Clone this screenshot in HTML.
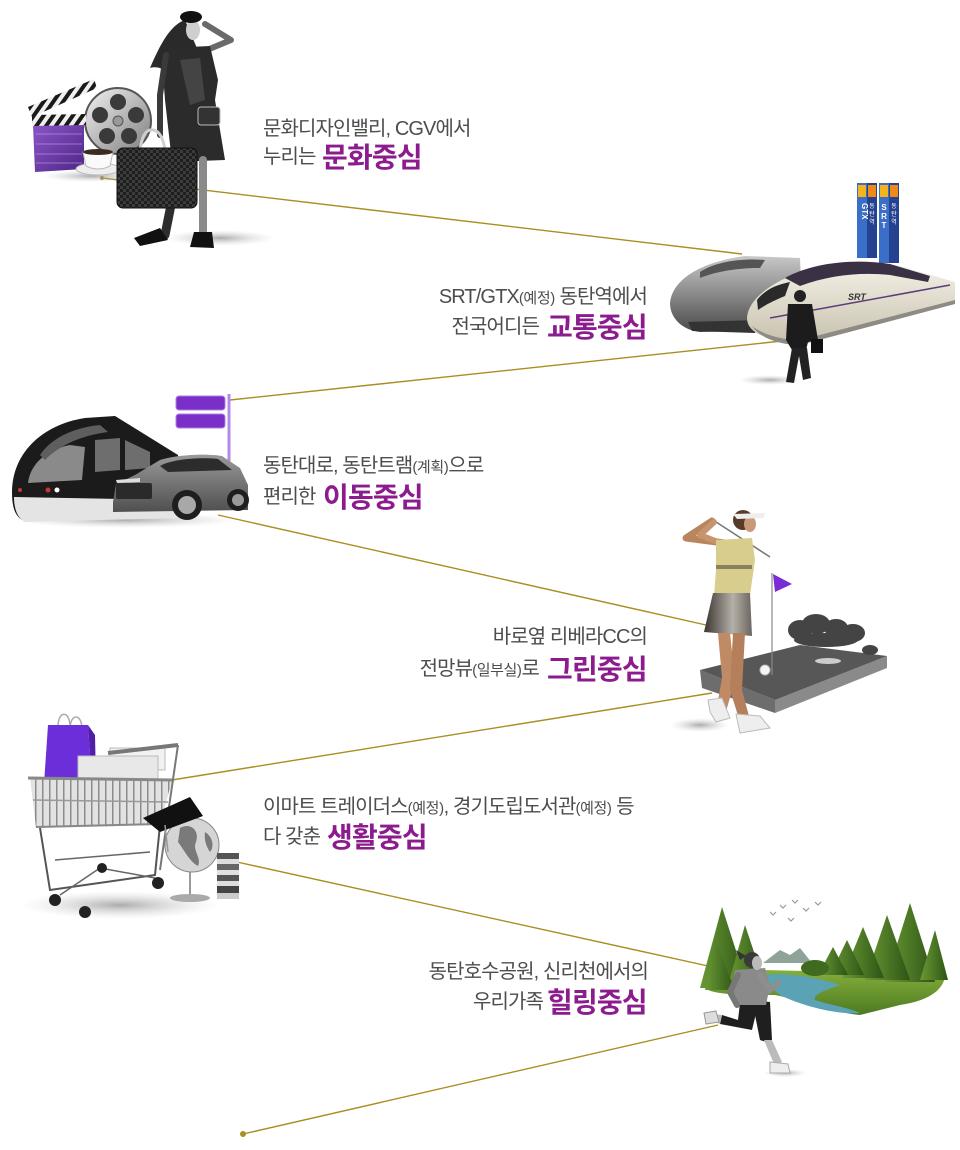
<!DOCTYPE html>
<html><head><meta charset="utf-8">
<style>
html,body{margin:0;padding:0;background:#fff;}
body{width:960px;height:1150px;position:relative;overflow:hidden;}
svg{position:absolute;left:0;top:0;}
.t{position:absolute;white-space:nowrap;font-family:"Liberation Sans","Noto Sans CJK KR",sans-serif;font-size:20px;line-height:20px;color:#4d4d4d;letter-spacing:-0.9px;}
.s{font-size:15px;letter-spacing:-0.4px;}
.b{position:absolute;white-space:nowrap;font-family:"Liberation Sans","Noto Sans CJK KR",sans-serif;font-size:28px;line-height:28px;font-weight:bold;color:#8c1c8e;letter-spacing:-0.8px;}
</style></head><body>
<svg width="960" height="1150" viewBox="0 0 960 1150">
<defs>
 <linearGradient id="silver" x1="0" y1="0" x2="1" y2="1"><stop offset="0" stop-color="#f2f2f2"/><stop offset="1" stop-color="#7d7d7d"/></linearGradient>
 <linearGradient id="purp" x1="0" y1="0" x2="1" y2="1"><stop offset="0" stop-color="#8a55c8"/><stop offset="1" stop-color="#4e2687"/></linearGradient>
 <linearGradient id="gtrain" x1="0" y1="0" x2="0" y2="1"><stop offset="0" stop-color="#c8c8c8"/><stop offset=".5" stop-color="#8a8a8a"/><stop offset="1" stop-color="#4a4a4a"/></linearGradient>
 <linearGradient id="cream" x1="0" y1="0" x2="0" y2="1"><stop offset="0" stop-color="#f5f2e8"/><stop offset="1" stop-color="#c9c3b0"/></linearGradient>
 <linearGradient id="carg" x1="0" y1="0" x2="0" y2="1"><stop offset="0" stop-color="#9a9a9a"/><stop offset="1" stop-color="#4f4f4f"/></linearGradient>
 <linearGradient id="skirt" x1="0" y1="0" x2="1" y2="0"><stop offset="0" stop-color="#3a3530"/><stop offset=".6" stop-color="#b5b0a8"/><stop offset="1" stop-color="#6a655e"/></linearGradient>
 <linearGradient id="grass" x1="0" y1="0" x2="0" y2="1"><stop offset="0" stop-color="#8cb63f"/><stop offset="1" stop-color="#4d7a22"/></linearGradient>
 <linearGradient id="tree" x1="0" y1="0" x2="1" y2="0"><stop offset="0" stop-color="#6a9a34"/><stop offset="1" stop-color="#2e5416"/></linearGradient>
 <radialGradient id="shadow"><stop offset="0" stop-color="#888" stop-opacity=".7"/><stop offset="1" stop-color="#ccc" stop-opacity="0"/></radialGradient>
 <pattern id="chk" width="6" height="6" patternUnits="userSpaceOnUse"><rect width="6" height="6" fill="#1e1e1e"/><rect width="3" height="3" fill="#3c3c3c"/><rect x="3" y="3" width="3" height="3" fill="#3c3c3c"/></pattern>
 <pattern id="stripe" width="8" height="8" patternUnits="userSpaceOnUse" patternTransform="rotate(35)"><rect width="8" height="8" fill="#1a1a1a"/><rect width="4" height="8" fill="#f0f0f0"/></pattern>
 <pattern id="wire" width="7" height="7" patternUnits="userSpaceOnUse"><rect width="7" height="7" fill="#e2e2e2"/><rect width="1.5" height="7" fill="#8c8c8c"/></pattern>
</defs>

<!-- connector lines -->
<g stroke="#a98e22" stroke-width="1.4" fill="none">
 <line x1="102" y1="178" x2="742" y2="254"/>
 <line x1="782" y1="341" x2="230" y2="400"/>
 <line x1="218" y1="515" x2="706" y2="625"/>
 <line x1="712" y1="693" x2="172" y2="780"/>
 <line x1="237" y1="862" x2="708" y2="966"/>
 <line x1="718" y1="1025" x2="243" y2="1134"/>
</g>
<circle cx="243" cy="1134" r="3" fill="#a98e22"/>
<circle cx="102" cy="178" r="2" fill="#a98e22"/>

<!-- ===== Cluster 1: culture ===== -->
<ellipse cx="220" cy="238" rx="55" ry="8" fill="url(#shadow)"/>
<ellipse cx="92" cy="176" rx="50" ry="6" fill="url(#shadow)"/>
<circle cx="118" cy="121" r="33" fill="url(#silver)" stroke="#555" stroke-width="2"/>
<circle cx="118" cy="102" r="8" fill="#3a3a3a"/>
<circle cx="136" cy="115" r="8" fill="#3a3a3a"/>
<circle cx="129" cy="136" r="8" fill="#3a3a3a"/>
<circle cx="107" cy="136" r="8" fill="#3a3a3a"/>
<circle cx="100" cy="115" r="8" fill="#3a3a3a"/>
<circle cx="118" cy="121" r="5" fill="#999" stroke="#555"/>
<polygon points="33,125 84,124 84,169 35,172" fill="url(#purp)"/>
<g stroke="#c9b5e6" stroke-width="0.6"><line x1="36" y1="134" x2="82" y2="134"/><line x1="36" y1="144" x2="82" y2="144"/><line x1="36" y1="154" x2="82" y2="154"/><line x1="36" y1="163" x2="82" y2="163"/></g>
<polygon points="32,115 86,114 86,125 32,126" fill="url(#stripe)"/>
<polygon points="28,107 94,79 97,88 32,117" fill="url(#stripe)"/>
<ellipse cx="98" cy="169" rx="22" ry="6" fill="#eee" stroke="#bbb"/>
<path d="M83 152 L113 152 L110 166 Q98 172 86 166 Z" fill="#fafafa" stroke="#bbb"/>
<ellipse cx="98" cy="152" rx="15" ry="3" fill="#3a2a20"/>
<!-- woman -->
<path d="M185 20 C170 25 160 45 150 68 C160 65 168 72 172 78 L202 60 Z" fill="#2a2a2a"/>
<path d="M207 50 L231 40 L205 24" stroke="#6a6a6a" stroke-width="6" fill="none" stroke-linecap="round" stroke-linejoin="round"/>
<ellipse cx="193" cy="30" rx="7" ry="10" fill="#cfcfcf"/>
<ellipse cx="191" cy="17" rx="11" ry="6" fill="#111"/>
<path d="M168 48 L210 46 L218 80 L215 100 L225 160 L172 162 L165 100 L162 60 Z" fill="#2b2b2b"/>
<path d="M180 60 L200 58 L205 100 L190 105 Z" fill="#444"/>
<path d="M166 55 L160 95 L160 135" stroke="#3a3a3a" stroke-width="6" fill="none" stroke-linecap="round"/>
<rect x="198" y="107" width="22" height="18" rx="3" fill="#333" stroke="#bbb"/>
<path d="M180 160 L165 235" stroke="#2e2e2e" stroke-width="9" stroke-linecap="round"/>
<path d="M203 160 L203 236" stroke="#8a8a8a" stroke-width="8" stroke-linecap="round"/>
<path d="M134 238 L160 228 L168 240 L140 246 Z" fill="#111"/>
<path d="M194 232 L212 232 L214 248 L190 247 Z" fill="#111"/>
<path d="M140 150 Q143 128 153 130 Q162 131 165 150" stroke="#cfcfcf" stroke-width="3" fill="none"/>
<rect x="117" y="148" width="80" height="60" rx="6" fill="url(#chk)" stroke="#111"/>

<!-- ===== Cluster 2: trains ===== -->
<rect x="857" y="183" width="10" height="75" fill="#3b6fc7"/>
<rect x="867" y="183" width="10" height="75" fill="#24428f"/>
<rect x="858" y="185" width="8" height="12" fill="#f2b51c"/>
<rect x="868" y="185" width="8" height="12" fill="#ef8a1a"/>
<rect x="879" y="183" width="10" height="80" fill="#3b6fc7"/>
<rect x="889" y="183" width="10" height="80" fill="#24428f"/>
<rect x="880" y="185" width="8" height="12" fill="#f2b51c"/>
<rect x="890" y="185" width="8" height="12" fill="#ef8a1a"/>
<text x="862" y="203" font-family="Liberation Sans, sans-serif" font-size="8" font-weight="bold" fill="#fff" transform="rotate(90 862 203)">GTX</text>
<g font-family="Liberation Sans, Noto Sans CJK KR, sans-serif" font-size="6" fill="#fff" text-anchor="middle">
<text x="872" y="208">동</text><text x="872" y="216">탄</text><text x="872" y="224">역</text>
<text x="894" y="208">동</text><text x="894" y="216">탄</text><text x="894" y="224">역</text>
</g>
<g font-family="Liberation Sans, sans-serif" font-size="8" font-weight="bold" fill="#fff" text-anchor="middle">
<text x="884" y="210">S</text><text x="884" y="219">R</text><text x="884" y="228">T</text>
</g>
<path d="M670 303 C672 280 700 262 745 256 L800 258 L803 330 L700 332 C682 330 670 318 670 303 Z" fill="url(#gtrain)"/>
<path d="M700 272 C715 262 740 258 765 260 L760 268 C735 268 715 272 700 278 Z" fill="#555"/>
<path d="M688 322 L760 320 L755 333 L692 331 Z" fill="#333"/>
<path d="M747 318 C748 300 770 283 800 272 C825 262 860 258 900 266 L955 282 L955 300 L800 340 C770 342 747 334 747 318 Z" fill="url(#cream)"/>
<path d="M785 278 C810 264 850 258 890 264 L930 276 L928 282 L890 275 C860 272 830 275 800 286 Z" fill="#3a3145"/>
<path d="M757 300 C765 290 775 285 790 282 L785 296 C775 300 765 305 758 310 Z" fill="#2a2a2a"/>
<path d="M770 318 L950 285" stroke="#5a3d7a" stroke-width="1.5"/>
<path d="M752 326 C765 336 785 340 800 340 L955 300 L955 304 L800 345 C780 345 760 338 752 326 Z" fill="#8e8b85"/>
<text x="848" y="300" font-family="Liberation Sans, sans-serif" font-size="9" font-style="italic" font-weight="bold" fill="#333">SRT</text>
<ellipse cx="770" cy="380" rx="32" ry="5" fill="url(#shadow)"/>
<circle cx="800" cy="296" r="6" fill="#222"/>
<path d="M788 304 L812 304 L818 340 L808 342 L806 350 L792 350 L786 340 Z" fill="#1c1c1c"/>
<path d="M792 348 L786 382 L794 383 L799 356 L803 380 L811 378 L807 348 Z" fill="#222"/>
<rect x="811" y="339" width="12" height="14" fill="#111"/>

<!-- ===== Cluster 3: tram & car ===== -->
<rect x="176" y="396" width="49" height="14" rx="3" fill="#7b2fc9" stroke="#b07de0"/>
<rect x="176" y="414" width="49" height="14" rx="3" fill="#7b2fc9" stroke="#b07de0"/>
<line x1="229" y1="394" x2="229" y2="462" stroke="#b38ae8" stroke-width="3"/>
<ellipse cx="125" cy="520" rx="115" ry="8" fill="url(#shadow)"/>
<path d="M12 492 C12 455 40 425 85 418 L115 416 L178 455 L178 515 L22 520 C14 515 12 505 12 492 Z" fill="#1b1b1b"/>
<path d="M14 497 L178 500 L178 518 L25 522 C17 518 14 508 14 497 Z" fill="#e4e4e4"/>
<path d="M28 483 C30 465 45 450 70 445 L85 447 L82 480 Z" fill="#8a8a8a"/>
<path d="M40 455 C50 440 70 428 100 425 L108 432 C85 435 62 443 45 460 Z" fill="#5e5e5e"/>
<path d="M95 440 L120 438 L120 470 L95 472 Z" fill="#6e6e6e"/>
<path d="M125 440 L150 452 L150 468 L125 470 Z" fill="#6e6e6e"/>
<circle cx="20" cy="490" r="2" fill="#c33"/>
<circle cx="48" cy="490" r="2.5" fill="#c33"/>
<circle cx="57" cy="490" r="2.5" fill="#fff"/>
<path d="M113 502 L116 484 L135 475 L160 460 C175 455 205 453 222 456 L240 468 L248 485 L248 510 L113 512 Z" fill="url(#carg)"/>
<path d="M160 466 C172 459 200 457 218 459 L232 470 L168 472 Z" fill="#2c2c2c"/>
<rect x="116" y="483" width="36" height="16" rx="2" fill="#2a2a2a"/>
<path d="M116 480 L140 478 L140 482 L117 483 Z" fill="#ddd"/>
<circle cx="187" cy="505" r="15" fill="#1e1e1e"/>
<circle cx="187" cy="505" r="9" fill="#a8a8a8"/>
<circle cx="238" cy="500" r="11" fill="#1e1e1e"/>
<circle cx="238" cy="500" r="6" fill="#999"/>

<!-- ===== Cluster 4: golf ===== -->
<ellipse cx="700" cy="725" rx="30" ry="7" fill="url(#shadow)"/>
<polygon points="700,670 775,700 775,713 702,688" fill="#6d6d6d"/>
<polygon points="775,700 887,656 887,668 775,713" fill="#8a8a8a"/>
<polygon points="700,670 800,645 887,656 775,700" fill="#575757"/>
<g fill="#444">
<ellipse cx="800" cy="630" rx="12" ry="10"/><ellipse cx="816" cy="624" rx="14" ry="10"/>
<ellipse cx="836" cy="628" rx="12" ry="9"/><ellipse cx="853" cy="633" rx="12" ry="9"/>
<ellipse cx="826" cy="640" rx="32" ry="7"/><ellipse cx="870" cy="650" rx="8" ry="5"/>
</g>
<ellipse cx="828" cy="661" rx="13" ry="3" fill="#ccc"/>
<circle cx="765" cy="670" r="5" fill="#f5f5f5" stroke="#bbb"/>
<line x1="772" y1="573" x2="772" y2="675" stroke="#888" stroke-width="1.2"/>
<path d="M773 574 L792 584 L775 592 Z" fill="#7a2dd2"/>
<line x1="713" y1="520" x2="770" y2="557" stroke="#777" stroke-width="1.5"/>
<path d="M740 545 L686 538 L712 521" stroke="#b9855f" stroke-width="7" fill="none" stroke-linecap="round" stroke-linejoin="round"/>
<path d="M728 546 L700 535 L714 522" stroke="#c8946c" stroke-width="6" fill="none" stroke-linecap="round" stroke-linejoin="round"/>
<circle cx="743" cy="520" r="10" fill="#5a3a28"/>
<ellipse cx="750" cy="524" rx="6" ry="8" fill="#c99a78"/>
<path d="M733 514 L765 513 L764 518 L737 519 Z" fill="#eee"/>
<path d="M716 540 L752 538 L755 560 L750 595 L714 596 L716 570 Z" fill="#d8cd8c"/>
<rect x="716" y="565" width="36" height="4" fill="#8a8060"/>
<path d="M713 593 L750 593 L752 636 L704 632 Z" fill="url(#skirt)"/>
<path d="M718 633 L730 633 L735 680 L725 715 L716 712 L722 678 Z" fill="#c08a64"/>
<path d="M733 633 L745 633 L742 690 L750 720 L740 722 L730 690 Z" fill="#b47f5a"/>
<path d="M708 700 L722 698 L730 718 L716 722 L710 712 Z" fill="#eee" stroke="#bbb"/>
<path d="M736 714 L760 716 L770 728 L740 733 Z" fill="#eee" stroke="#bbb"/>

<!-- ===== Cluster 5: shopping ===== -->
<ellipse cx="120" cy="905" rx="100" ry="14" fill="url(#shadow)"/>
<path d="M58 727 C58 710 70 710 70 727" stroke="#aaa" stroke-width="1.5" fill="none"/>
<path d="M70 729 C70 713 82 713 82 729" stroke="#aaa" stroke-width="1.5" fill="none"/>
<path d="M48 725 L88 725 L92 782 L44 784 Z" fill="#6b2ed8"/>
<path d="M88 725 L95 735 L96 780 L92 782 Z" fill="#4f1fa6"/>
<rect x="110" y="748" width="55" height="22" fill="#f2f2f2" stroke="#bbb"/>
<rect x="78" y="756" width="80" height="24" fill="#e8e8e8" stroke="#bbb"/>
<path d="M30 778 L172 780 L160 825 L36 828 Z" fill="url(#wire)"/>
<line x1="28" y1="778" x2="174" y2="780" stroke="#888" stroke-width="3"/>
<line x1="33" y1="800" x2="168" y2="802" stroke="#999" stroke-width="1.5"/>
<line x1="36" y1="827" x2="160" y2="824" stroke="#888" stroke-width="2"/>
<path d="M108 753 L178 745" stroke="#777" stroke-width="4"/>
<path d="M178 745 L170 800 L160 870" stroke="#777" stroke-width="2" fill="none"/>
<path d="M40 828 L50 890 L155 875 L160 825" stroke="#555" stroke-width="2" fill="none"/>
<path d="M55 860 L150 852 M60 895 L100 868 M100 868 L155 878" stroke="#666" stroke-width="1.5" fill="none"/>
<circle cx="55" cy="900" r="6" fill="#222"/>
<circle cx="85" cy="912" r="6" fill="#222"/>
<circle cx="102" cy="868" r="5" fill="#222"/>
<circle cx="158" cy="883" r="6" fill="#222"/>
<line x1="190" y1="870" x2="190" y2="897" stroke="#999" stroke-width="2"/>
<ellipse cx="190" cy="898" rx="20" ry="4" fill="#aaa"/>
<circle cx="192" cy="845" r="27" fill="#d5d5d5" stroke="#888"/>
<path d="M180 828 C190 822 200 830 196 842 C192 850 202 858 198 866 C190 862 184 850 178 842 Z" fill="#7a7a7a"/>
<path d="M205 832 C212 836 215 846 210 852 C206 846 204 840 205 832 Z" fill="#7a7a7a"/>
<polygon points="143,818 190,797 203,816 160,832" fill="#111"/>
<line x1="165" y1="825" x2="168" y2="852" stroke="#999" stroke-width="1.5"/>
<g>
<rect x="217" y="853" width="22" height="6" fill="#555"/><rect x="217" y="859" width="22" height="5" fill="#ddd"/>
<rect x="217" y="864" width="22" height="6" fill="#666"/><rect x="217" y="870" width="22" height="5" fill="#e0e0e0"/>
<rect x="217" y="875" width="22" height="6" fill="#555"/><rect x="217" y="881" width="22" height="5" fill="#ddd"/>
<rect x="217" y="886" width="22" height="7" fill="#444"/><rect x="217" y="893" width="22" height="6" fill="#ccc"/>
</g>

<!-- ===== Cluster 6: nature & runner ===== -->
<path d="M703 985 C706 972 730 968 760 970 L850 972 C880 965 920 960 945 968 C948 985 935 1000 900 1005 L860 1015 C830 1012 800 1000 775 995 C740 995 705 995 703 985 Z" fill="url(#grass)"/>
<polygon points="763,963 780,950 790,955 800,948 812,963" fill="#8fa398"/>
<g fill="url(#tree)">
<polygon points="722,907 748,988 700,988"/>
<polygon points="745,925 765,985 728,985"/>
<polygon points="715,940 735,990 705,990"/>
<polygon points="910,903 935,982 885,982"/>
<polygon points="887,915 910,980 865,980"/>
<polygon points="863,927 884,978 842,978"/>
<polygon points="847,940 864,975 830,975"/>
<polygon points="833,947 848,975 818,975"/>
<polygon points="935,930 948,980 920,980"/>
</g>
<ellipse cx="815" cy="968" rx="14" ry="8" fill="#3f6a1f"/>
<path d="M763 975 C790 972 820 978 840 985 C825 990 812 995 815 1000 C830 1005 850 1008 860 1013 C835 1015 800 1005 780 995 C770 988 770 980 763 975 Z" fill="#5ba2b5"/>
<g stroke="#999" stroke-width="1.2" fill="none">
<path d="M770 912 l3 3 l3 -3"/><path d="M780 905 l3 3 l3 -3"/><path d="M792 900 l3 3 l3 -3"/><path d="M803 908 l3 3 l3 -3"/><path d="M815 902 l3 3 l3 -3"/><path d="M788 918 l3 3 l3 -3"/>
</g>
<ellipse cx="785" cy="1073" rx="22" ry="4" fill="url(#shadow)"/>
<path d="M740 1003 L758 1005 L752 1030 L720 1024 L722 1015 L738 1020 Z" fill="#1f1f1f"/>
<path d="M722 1015 L712 1014 L714 1022 L720 1024 Z" fill="#bbb"/>
<path d="M704 1013 L716 1011 L719 1022 L706 1024 Z" fill="#ddd" stroke="#999"/>
<path d="M752 1000 L770 1002 L772 1040 L766 1042 L760 1040 Z" fill="#1f1f1f"/>
<path d="M764 1040 L772 1040 L782 1062 L774 1064 Z" fill="#bbb"/>
<path d="M770 1062 L788 1064 L790 1073 L770 1073 Z" fill="#eee" stroke="#aaa"/>
<path d="M735 970 L765 968 L770 985 L766 1005 L738 1005 L732 985 Z" fill="#8a8a8a"/>
<path d="M738 975 L730 992 L737 1005" stroke="#777" stroke-width="6" fill="none" stroke-linecap="round"/>
<path d="M760 975 L770 990 L778 983" stroke="#8e8e8e" stroke-width="6" fill="none" stroke-linecap="round"/>
<path d="M746 956 L736 950 L740 960 Z" fill="#333"/>
<circle cx="752" cy="960" r="8" fill="#3a3a3a"/>
<ellipse cx="757" cy="963" rx="5" ry="7" fill="#bbb"/>
</svg>

<div class="t" style="left:263px;top:119px">문화디자인밸리, CGV에서</div>
<div class="t" style="left:263px;top:147px">누리는</div>
<div class="b" style="left:322px;top:144px">문화중심</div>

<div class="t" style="right:313px;top:287px">SRT/GTX<span class="s">(예정)</span> 동탄역에서</div>
<div class="t" style="right:421px;top:317px">전국어디든</div>
<div class="b" style="left:547px;top:314px">교통중심</div>

<div class="t" style="left:263px;top:456px">동탄대로, 동탄트램<span class="s">(계획)</span>으로</div>
<div class="t" style="left:263px;top:487px">편리한</div>
<div class="b" style="left:323px;top:484px">이동중심</div>

<div class="t" style="right:313px;top:627px">바로옆 리베라CC의</div>
<div class="t" style="right:421px;top:659px">전망뷰<span class="s">(일부실)</span>로</div>
<div class="b" style="left:547px;top:656px">그린중심</div>

<div class="t" style="left:263px;top:797px">이마트 트레이더스<span class="s">(예정)</span>, 경기도립도서관<span class="s">(예정)</span> 등</div>
<div class="t" style="left:263px;top:827px">다 갖춘</div>
<div class="b" style="left:327px;top:824px">생활중심</div>

<div class="t" style="right:312px;top:962px">동탄호수공원, 신리천에서의</div>
<div class="t" style="right:417px;top:992px">우리가족</div>
<div class="b" style="left:547px;top:989px">힐링중심</div>
</body></html>
